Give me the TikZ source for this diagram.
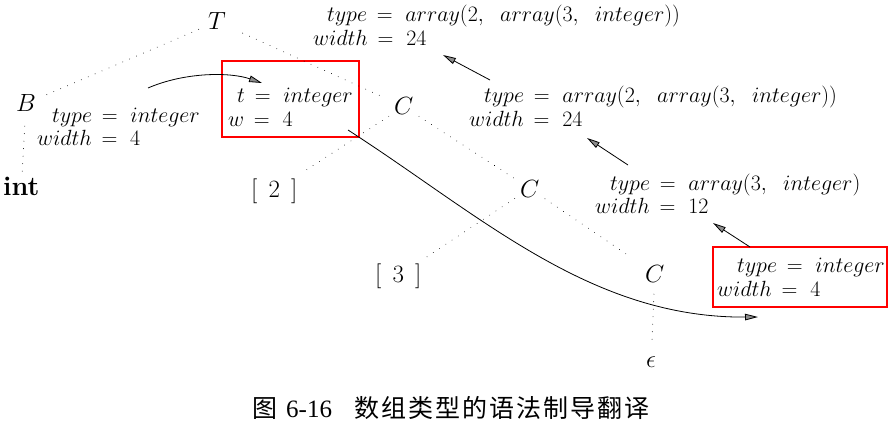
\RequirePackage{fix-cm}
\documentclass[tikz,border=0pt]{standalone}
\usepackage{fontspec}
\newfontfamily\cjk[LetterSpace=8]{Noto Sans CJK SC}
\newfontfamily\capserif{Liberation Serif}
\usetikzlibrary{arrows.meta}
\newcommand\eqsp{\,=\ }
\newcommand\cmsp{,\;\ }
\begin{document}
\begin{tikzpicture}[x=1pt,y=-1pt,
  lbl/.style={inner sep=0pt, anchor=base west, font=\fontsize{22}{27}\selectfont},
  sym/.style={inner sep=2pt, anchor=base west, font=\fontsize{24.88}{28}\selectfont},
  tree/.style={line width=0.9pt, dash pattern=on 0.01pt off 7.5pt, line cap=round},
  flow/.style={line width=0.8pt, -{Triangle[length=13pt,width=6.5pt,fill=black!45]}},
  hl/.style={draw=red, line width=2.6pt, inner sep=0pt}]
\useasboundingbox (0,0) rectangle (891,425);

% tree nodes
\node[sym] (T) at (206,30) {$T$};
\node[sym] (B) at (14,112) {$B$};
\node[sym, font=\fontsize{27}{30}\selectfont] (int) at (1,195) {\textbf{int}};
\node[sym] (C1) at (392,115) {$C$};
\node[sym] (n2) at (249,197) {[\hspace{0.45em}2\hspace{0.45em}]};
\node[sym] (C2) at (518,197) {$C$};
\node[sym] (n3) at (373,282) {[\hspace{0.45em}3\hspace{0.45em}]};
\node[sym] (C3) at (643,282) {$C$};
\node[sym] (eps) at (644,367) {$\epsilon$};

% attribute labels
\node[lbl] (tT) at (327,22) {$type\eqsp array(2\cmsp array(3\cmsp integer))$};
\node[lbl] (wT) at (313,46) {$width\eqsp 24$};
\node[lbl] (tB) at (52,123) {$type\eqsp integer$};
\node[lbl] (wB) at (37,146) {$width\eqsp 4$};
\node[lbl] (tX) at (237,103) {$t\eqsp integer$};
\node[lbl] (wX) at (228,127) {$w\eqsp 4$};
\node[lbl] (tC1) at (484,103) {$type\eqsp array(2\cmsp array(3\cmsp integer))$};
\node[lbl] (wC1) at (469,127) {$width\eqsp 24$};
\node[lbl] (tC2) at (610,190) {$type\eqsp array(3\cmsp integer)$};
\node[lbl] (wC2) at (595,213) {$width\eqsp 12$};
\node[lbl] (tC3) at (737,272) {$type\eqsp integer$};
\node[lbl] (wC3) at (717,296) {$width\eqsp 4$};

% highlight boxes
\node[hl, minimum width=137pt, minimum height=76pt] (box1) at (290.5,99) {};
\node[hl, minimum width=174pt, minimum height=60pt] (box2) at (800,277) {};

% parse tree edges
\draw[tree, shorten <=8pt, shorten >=6pt] (T) -- (B);
\draw[tree, shorten <=16pt, shorten >=8pt] (T) -- (C1);
\draw[tree, shorten <=12pt, shorten >=2pt] (B) -- (int);
\draw[tree, shorten <=4pt, shorten >=6pt] (C1) -- (n2);
\draw[tree, shorten <=4pt, shorten >=4pt] (C1) -- (C2);
\draw[tree, shorten <=4pt, shorten >=6pt] (C2) -- (n3);
\draw[tree, shorten <=4pt, shorten >=20pt] (C2) -- (C3);
\draw[tree, shorten <=10pt, shorten >=8pt] (C3) -- (eps);

% attribute flow arrows
\coordinate (a1s) at (148,88);
\coordinate (a1e) at (262,83);
\draw[flow] (a1s) .. controls (185,72) and (230,72) .. (a1e);
\coordinate (a2s) at (348,130);
\coordinate (a2e) at (758,317);
\draw[flow] (a2s) .. controls (480,215) and (590,318) .. (a2e);
\coordinate (a3s) at (490,80);
\coordinate (a3e) at (443,55);
\draw[flow] (a3s) -- (a3e);
\coordinate (a4s) at (628,165);
\coordinate (a4e) at (587,138);
\draw[flow] (a4s) -- (a4e);
\coordinate (a5s) at (750,247);
\coordinate (a5e) at (713,223);
\draw[flow] (a5s) -- (a5e);

% caption
\node[inner sep=0pt, anchor=base west, font=\fontsize{25}{30}\selectfont] (cap) at (252,417)
  {{\cjk 图}\hspace{9pt}{\capserif 6-16}\hspace{22pt}{\cjk 数组类型的语法制导翻译}};
\end{tikzpicture}
\end{document}
